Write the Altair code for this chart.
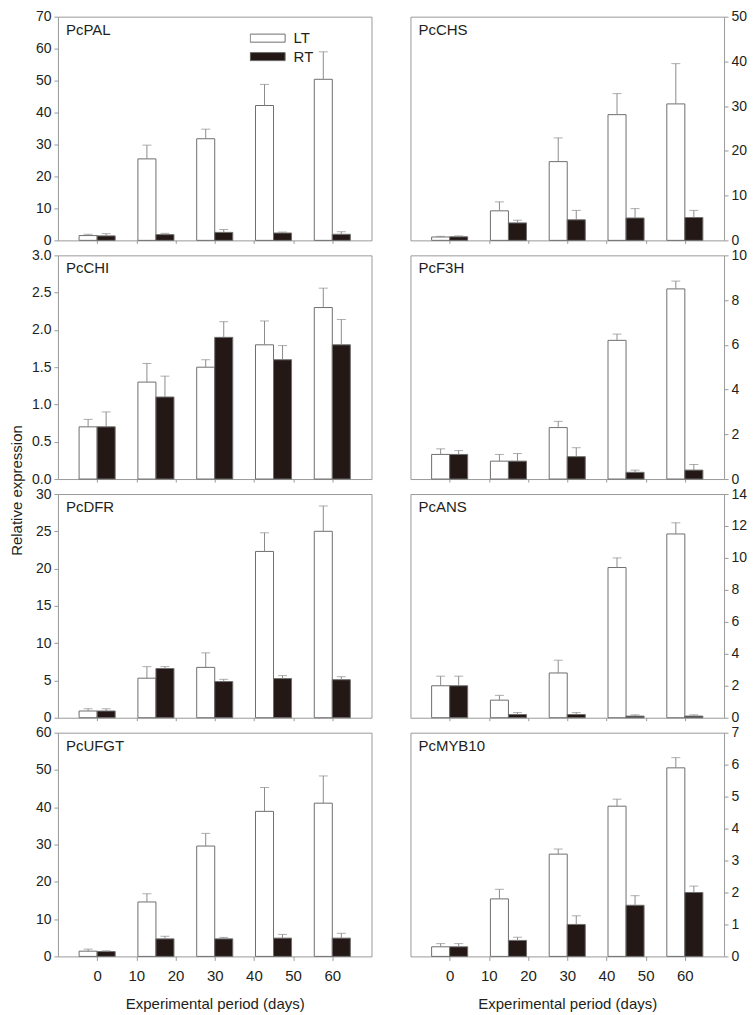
import altair as alt
import pandas as pd

# ---------------- data ----------------
days = [0, 15, 30, 45, 60]
series_names = ["LT", "RT"]
genes = ["PcPAL", "PcCHS", "PcCHI", "PcF3H", "PcDFR", "PcANS", "PcUFGT", "PcMYB10"]

lt_mean = {
    "PcPAL": [1.5, 25.5, 31.8, 42.2, 50.4],
    "PcCHS": [0.75, 6.6, 17.6, 28.1, 30.5],
    "PcCHI": [0.7, 1.3, 1.5, 1.8, 2.3],
    "PcF3H": [1.1, 0.8, 2.3, 6.2, 8.5],
    "PcDFR": [0.9, 5.3, 6.75, 22.3, 25.0],
    "PcANS": [2.0, 1.1, 2.8, 9.4, 11.5],
    "PcUFGT": [1.4, 14.6, 29.6, 38.9, 41.1],
    "PcMYB10": [0.3, 1.8, 3.2, 4.7, 5.9],
}
lt_sd = {
    "PcPAL": [0.4, 4.3, 3.0, 6.6, 8.6],
    "PcCHS": [0.15, 2.0, 5.3, 4.7, 9.0],
    "PcCHI": [0.1, 0.25, 0.1, 0.32, 0.26],
    "PcF3H": [0.25, 0.3, 0.28, 0.28, 0.35],
    "PcDFR": [0.3, 1.55, 1.95, 2.5, 3.4],
    "PcANS": [0.6, 0.3, 0.8, 0.6, 0.7],
    "PcUFGT": [0.55, 2.2, 3.4, 6.4, 7.3],
    "PcMYB10": [0.1, 0.3, 0.16, 0.22, 0.32],
}
rt_mean = {
    "PcPAL": [1.4, 1.8, 2.5, 2.3, 1.9],
    "PcCHS": [0.8, 3.9, 4.6, 5.0, 5.1],
    "PcCHI": [0.7, 1.1, 1.9, 1.6, 1.8],
    "PcF3H": [1.1, 0.8, 1.0, 0.3, 0.4],
    "PcDFR": [0.9, 6.6, 4.85, 5.25, 5.1],
    "PcANS": [2.0, 0.2, 0.2, 0.1, 0.1],
    "PcUFGT": [1.3, 4.7, 4.7, 4.9, 4.9],
    "PcMYB10": [0.3, 0.5, 1.0, 1.6, 2.0],
}
rt_sd = {
    "PcPAL": [0.7, 0.4, 0.9, 0.3, 0.8],
    "PcCHS": [0.2, 0.6, 2.1, 2.1, 1.6],
    "PcCHI": [0.2, 0.28, 0.21, 0.19, 0.34],
    "PcF3H": [0.17, 0.34, 0.4, 0.1, 0.25],
    "PcDFR": [0.3, 0.25, 0.3, 0.4, 0.4],
    "PcANS": [0.6, 0.12, 0.12, 0.08, 0.08],
    "PcUFGT": [0.2, 0.7, 0.4, 1.0, 1.3],
    "PcMYB10": [0.1, 0.1, 0.27, 0.3, 0.2],
}
y_max = {"PcPAL": 70, "PcCHS": 50, "PcCHI": 3.0, "PcF3H": 10,
         "PcDFR": 30, "PcANS": 14, "PcUFGT": 60, "PcMYB10": 7}
y_step = {"PcPAL": 10, "PcCHS": 10, "PcCHI": 0.5, "PcF3H": 2,
          "PcDFR": 5, "PcANS": 2, "PcUFGT": 10, "PcMYB10": 1}
x_ticks = [0, 10, 20, 30, 40, 50, 60]

# ---------------- styling ----------------
FONT = "Liberation Sans"
TXT = "#231f20"
GRAY = "#8c8c8c"
BAR_W = 4.6      # bar width in day units
PW, PH = 314, 224


def gene_df(g):
    rows = []
    for i, d in enumerate(days):
        rows.append({"day": d, "series": "LT", "value": lt_mean[g][i], "sd": lt_sd[g][i]})
        rows.append({"day": d, "series": "RT", "value": rt_mean[g][i], "sd": rt_sd[g][i]})
    return pd.DataFrame(rows)


def panel(idx, g):
    row, col = idx // 2, idx % 2
    bottom = row == 3
    n = int(round(y_max[g] / y_step[g]))
    yvals = [round(k * y_step[g], 2) for k in range(n + 1)]
    fmt = ".1f" if g == "PcCHI" else "d"

    xscale = alt.Scale(domain=[-10, 70], nice=False, zero=False)
    xaxis = alt.Axis(values=x_ticks, labels=bottom, format="d",
                     title="Experimental period (days)" if bottom else None,
                     tickSize=3 if not bottom else 4, labelPadding=8,
                     labelFontSize=15, titlePadding=13)
    yscale = alt.Scale(domain=[0, y_max[g]], nice=False)
    yaxis = alt.Axis(values=yvals, format=fmt, title=None,
                     orient="left" if col == 0 else "right")

    base = alt.Chart(gene_df(g)).transform_calculate(
        x0=f"datum.day + (datum.series == 'LT' ? -{BAR_W} : 0)",
        x1=f"datum.day + (datum.series == 'LT' ? 0 : {BAR_W})",
        xc=f"datum.day + (datum.series == 'LT' ? -{BAR_W / 2} : {BAR_W / 2})",
        top="datum.value + datum.sd",
        zero="0",
    )

    if idx == 0:
        legend = alt.Legend(
            title=None, orient="none", legendX=192, legendY=13,
            symbolType="M-1,-0.23H1V0.23H-1Z", symbolSize=1225,
            symbolStrokeColor="#6e6e6e", symbolStrokeWidth=1,
            clipHeight=17, rowPadding=1.5, labelOffset=8,
            labelFontSize=15, labelFont=FONT, labelColor=TXT, padding=0,
        )
    else:
        legend = None

    bars = base.mark_bar(stroke="#6e6e6e", strokeWidth=1).encode(
        x=alt.X("x0:Q", scale=xscale, axis=xaxis),
        x2="x1:Q",
        y=alt.Y("value:Q", scale=yscale, axis=yaxis),
        y2="zero:Q",
        fill=alt.Fill("series:N",
                      scale=alt.Scale(domain=series_names, range=["#ffffff", "#231815"]),
                      legend=legend),
    )
    rules = base.mark_rule(color=GRAY, strokeWidth=1).encode(
        x=alt.X("xc:Q", scale=xscale, axis=xaxis),
        y=alt.Y("value:Q", scale=yscale, axis=yaxis),
        y2="top:Q",
    )
    caps = base.mark_tick(color=GRAY, orient="horizontal", size=9, thickness=1).encode(
        x=alt.X("xc:Q", scale=xscale, axis=xaxis),
        y=alt.Y("top:Q", scale=yscale, axis=yaxis),
    )
    label = alt.Chart(pd.DataFrame({"gene": [g]})).mark_text(
        align="left", baseline="middle", fontSize=15, font=FONT, color=TXT
    ).encode(text="gene:N", x=alt.value(8), y=alt.value(13))

    return alt.layer(bars, rules, caps, label).properties(width=PW, height=PH)


panels = [panel(i, g) for i, g in enumerate(genes)]

chart = alt.concat(
    *panels, columns=2, spacing={"row": 15, "column": 39}, bounds="flush"
).resolve_scale(
    x="independent", y="independent", fill="independent"
).properties(
    title=alt.TitleParams("Relative expression", orient="left", anchor="middle",
                          fontSize=15, font=FONT, fontWeight="normal", color=TXT,
                          offset=6, dx=20),
    padding={"left": 2, "top": 0, "right": 0, "bottom": 0},
).configure_view(
    stroke="#9a9a9a", strokeWidth=1
).configure_axis(
    domain=False, grid=False, tickColor="#9a9a9a", tickSize=4,
    labelFont=FONT, labelFontSize=14, labelColor=TXT, labelPadding=3,
    titleFont=FONT, titleFontSize=15, titleFontWeight="normal", titleColor=TXT,
)

chart.save("out.html", embed_options={"renderer": "svg", "actions": False})
